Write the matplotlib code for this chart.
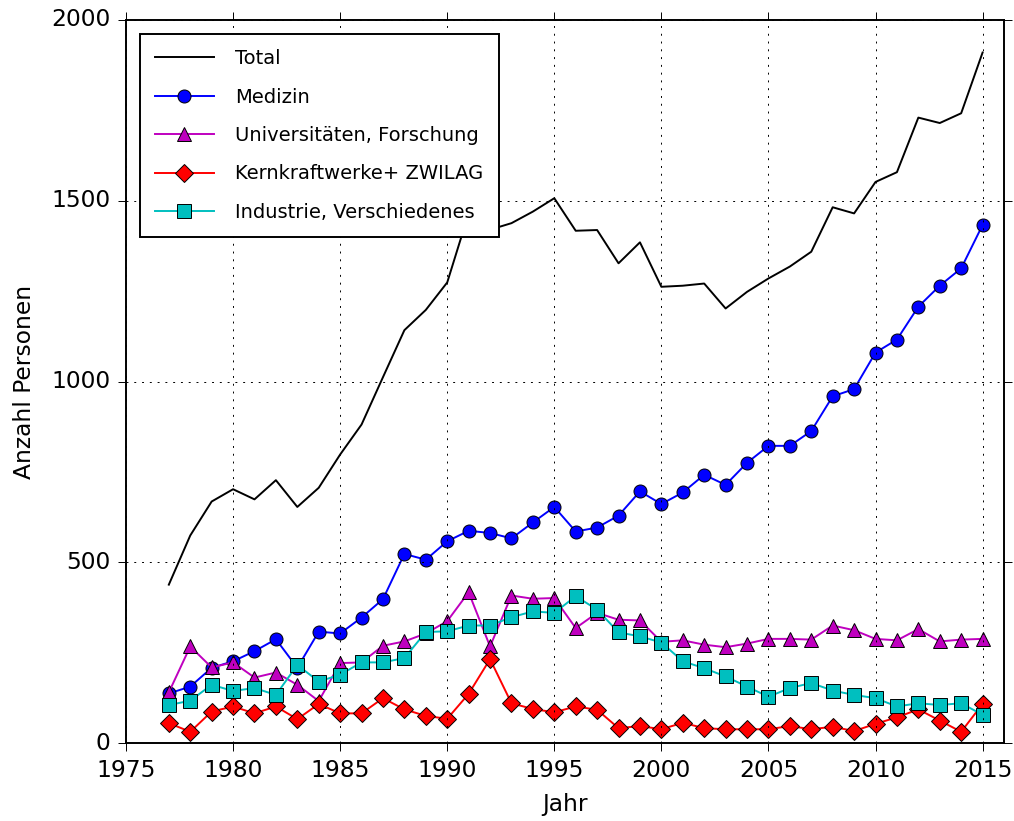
import matplotlib
matplotlib.use("Agg")
import matplotlib.pyplot as plt

plt.style.use("classic")

years = list(range(1977, 2016))

total = [438, 574, 668, 702, 674, 727, 653, 706, 798, 881, 1012, 1142, 1198, 1274,
         1465, 1420, 1438, 1470, 1507, 1417, 1419, 1327, 1385, 1262, 1265, 1271,
         1202, 1248, 1285, 1318, 1359, 1482, 1465, 1552, 1579, 1730, 1715, 1742, 1910]

medizin = [137, 156, 208, 226, 254, 287, 208, 308, 303, 347, 398, 523, 507, 558,
           587, 581, 566, 610, 653, 585, 596, 629, 696, 661, 693, 742,
           714, 775, 822, 822, 863, 959, 979, 1080, 1116, 1207, 1265, 1313, 1433]

uni = [140, 267, 209, 223, 181, 195, 161, 116, 221, 223, 269, 281, 303, 337,
       417, 267, 408, 399, 401, 318, 360, 341, 339, 280, 284, 272,
       265, 275, 288, 288, 286, 325, 312, 288, 284, 315, 281, 286, 288]

kkw = [55, 31, 87, 101, 82, 101, 66, 108, 82, 82, 124, 93, 75, 67,
       136, 232, 110, 94, 85, 101, 92, 41, 47, 38, 56, 41,
       38, 38, 38, 47, 38, 45, 33, 53, 71, 93, 62, 31, 108]

industrie = [105, 117, 161, 144, 152, 133, 216, 170, 189, 223, 223, 235, 307, 309,
             325, 325, 348, 364, 360, 406, 369, 306, 295, 278, 226, 207,
             184, 156, 128, 152, 166, 145, 133, 124, 101, 110, 105, 110, 78]

labels = ["Total", "Medizin", "Universitäten, Forschung",
          "Kernkraftwerke+ ZWILAG", "Industrie, Verschiedenes"]

fig = plt.figure(figsize=(1014 / 140, 821 / 140), dpi=140, facecolor="white")
ax = fig.add_axes([126 / 1014, 1 - 743 / 821, (1004 - 126) / 1014, (743 - 20) / 821])

ax.plot(years, total, color="k", label=labels[0])
ax.plot(years, medizin, color="b", marker="o", markersize=6.7, label=labels[1])
ax.plot(years, uni, color="m", marker="^", markersize=6.7, label=labels[2])
ax.plot(years, kkw, color="r", marker="D", markersize=6.7, label=labels[3])
ax.plot(years, industrie, color="c", marker="s", markersize=6.7, label=labels[4])

ax.set_xlim(1975, 2016)
ax.set_ylim(0, 2000)
ax.set_xticks(range(1975, 2016, 5))
ax.set_yticks(range(0, 2001, 500))
ax.ticklabel_format(useOffset=False, style="plain")
ax.grid(True)
ax.set_xlabel("Jahr", fontsize=12, labelpad=6)
ax.set_ylabel("Anzahl Personen", fontsize=12, labelpad=8)
ax.tick_params(labelsize=12, direction="out", length=4)
ax.tick_params(which="minor", length=0)

ax.legend(loc="upper left", numpoints=1, fontsize=10, labelspacing=1.0,
          borderpad=0.8, borderaxespad=0.7, handlelength=3.0, handletextpad=1.1)

fig.savefig("out.png", dpi=140, facecolor="white")
